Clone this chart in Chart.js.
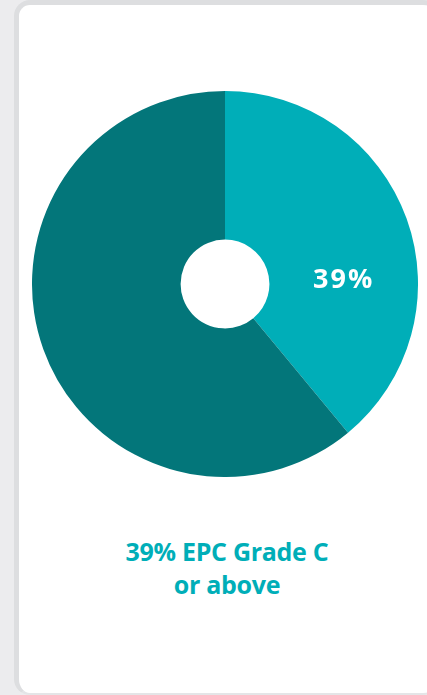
<!DOCTYPE html>
<html lang="en">
<head>
  <meta charset="UTF-8">
  <title>EPC Grade C or above</title>
  <script src="https://cdn.jsdelivr.net/npm/chart.js"></script>
  <style>
    body {
      margin: 0;
      width: 427px;
      height: 695px;
      overflow: hidden;
      background-color: #ececee;
      font-family: "Open Sans", sans-serif;
    }
    #card {
      position: absolute;
      left: 14px;
      top: 0;
      width: 420px;
      height: 688px;
      background: #fff;
      border-left: 5px solid #dddee0;
      border-top: 5px solid #dddee0;
      border-bottom: 2px solid #e4e5e7;
      border-radius: 16px;
    }
    #chart-box {
      position: absolute;
      left: 32px;
      top: 91px;
      width: 386px;
      height: 386px;
    }
    #caption {
      position: absolute;
      left: 27px;
      width: 400px;
      top: 535px;
      text-align: center;
      color: #00aeb8;
      font-size: 25px;
      font-weight: 700;
      line-height: 33px;
      letter-spacing: -0.3px;
    }
  </style>
</head>
<body>
  <div id="card"></div>
  <div id="chart-box"><canvas id="epcChart"></canvas></div>
  <div id="caption">39% EPC Grade C<br>or above</div>

  <script>
    // datos
    const labels = ['EPC Grade C or above', 'Below Grade C'];
    const values = [39, 61];
    const colors = ['#00aeb8', '#03767a'];

    // etiqueta blanca sobre el segmento claro
    const percentLabel = {
      id: 'percentLabel',
      afterDatasetsDraw(chart) {
        const arc = chart.getDatasetMeta(0).data[0];
        const ctx = chart.ctx;
        ctx.save();
        ctx.font = 'bold 27px "Open Sans", sans-serif';
        ctx.letterSpacing = '2px';
        ctx.fillStyle = '#fff';
        ctx.textAlign = 'center';
        ctx.textBaseline = 'middle';
        ctx.fillText(values[0] + '%', arc.x + arc.outerRadius * 0.615, arc.y - 4);
        ctx.restore();
      }
    };

    new Chart(document.getElementById('epcChart'), {
      type: 'doughnut',
      data: {
        labels: labels,
        datasets: [{
          data: values,
          backgroundColor: colors,
          borderWidth: 0
        }]
      },
      options: {
        responsive: true,
        maintainAspectRatio: false,
        animation: false,
        cutout: '23%',
        plugins: {
          legend: { display: false },
          tooltip: { enabled: false }
        }
      },
      plugins: [percentLabel]
    });
  </script>
</body>
</html>
